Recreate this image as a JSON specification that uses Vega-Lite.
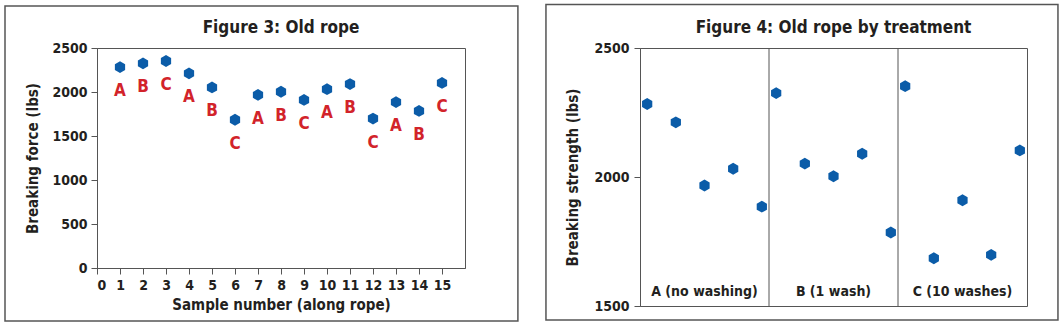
{
  "$schema": "https://vega.github.io/schema/vega-lite/v6.json",
  "padding": {"left": 3, "top": 3, "right": 0, "bottom": 0},
  "background": "white",
  "spacing": 24,
  "datasets": {
    "rope": [
      {"sample": 1, "treatment": "A", "rep": 1, "force": 2283},
      {"sample": 2, "treatment": "B", "rep": 1, "force": 2325},
      {"sample": 3, "treatment": "C", "rep": 1, "force": 2352},
      {"sample": 4, "treatment": "A", "rep": 2, "force": 2212},
      {"sample": 5, "treatment": "B", "rep": 2, "force": 2052},
      {"sample": 6, "treatment": "C", "rep": 2, "force": 1685},
      {"sample": 7, "treatment": "A", "rep": 3, "force": 1967},
      {"sample": 8, "treatment": "B", "rep": 3, "force": 2003},
      {"sample": 9, "treatment": "C", "rep": 3, "force": 1910},
      {"sample": 10, "treatment": "A", "rep": 4, "force": 2032},
      {"sample": 11, "treatment": "B", "rep": 4, "force": 2090},
      {"sample": 12, "treatment": "C", "rep": 4, "force": 1698},
      {"sample": 13, "treatment": "A", "rep": 5, "force": 1885},
      {"sample": 14, "treatment": "B", "rep": 5, "force": 1785},
      {"sample": 15, "treatment": "C", "rep": 5, "force": 2103}
    ]
  },
  "hconcat": [
    {
      "title": {"text": "Figure 3: Old rope", "frame": "group", "baseline": "alphabetic", "offset": -44.75},
      "width": 368,
      "height": 220,
      "encoding": {
        "x": {
          "type": "quantitative",
          "scale": {"domain": [0, 16], "nice": false},
          "axis": {"values": [0, 1, 2, 3, 4, 5, 6, 7, 8, 9, 10, 11, 12, 13, 14, 15], "format": "d", "labelOverlap": false, "title": "Sample number (along rope)", "labelPadding": 4, "titlePadding": 5}
        },
        "y": {
          "type": "quantitative",
          "scale": {"domain": [0, 2500], "nice": false},
          "axis": {"values": [0, 500, 1000, 1500, 2000, 2500], "format": "d", "title": "Breaking force (lbs)", "labelPadding": 4, "titlePadding": 11}
        }
      },
      "layer": [
        {
          "data": {"values": [{}]},
          "mark": {"type": "rect", "fill": "transparent", "stroke": "#555555", "strokeWidth": 1.5},
          "encoding": {
            "x": {"datum": -4.0, "type": "quantitative"},
            "x2": {"datum": 18.3},
            "y": {"datum": 2977, "type": "quantitative"},
            "y2": {"datum": -602}
          }
        },
        {
          "data": {"name": "rope"},
          "mark": {"type": "point", "shape": "M0,-1L0.866,-0.5L0.866,0.5L0,1L-0.866,0.5L-0.866,-0.5Z", "filled": true, "size": 140, "color": "#0b5ca8", "opacity": 1},
          "encoding": {
            "x": {"field": "sample", "type": "quantitative"},
            "y": {"field": "force", "type": "quantitative"}
          }
        },
        {
          "data": {"name": "rope"},
          "mark": {"type": "text", "dy": 24, "baseline": "middle", "fontSize": 17, "fontWeight": "bold", "color": "#d2232a"},
          "encoding": {
            "x": {"field": "sample", "type": "quantitative"},
            "y": {"field": "force", "type": "quantitative"},
            "text": {"field": "treatment"}
          }
        }
      ]
    },
    {
      "title": {"text": "Figure 4: Old rope by treatment", "frame": "group", "baseline": "alphabetic", "offset": -46.75},
      "width": 387,
      "height": 258,
      "resolve": {"scale": {"x": "independent"}},
      "layer": [
        {
          "data": {"values": [{}]},
          "mark": {"type": "rect", "fill": "transparent", "stroke": "#555555", "strokeWidth": 1.5},
          "encoding": {
            "x": {"datum": -0.243, "type": "quantitative", "scale": {"domain": [0, 1], "nice": false}, "axis": null},
            "x2": {"datum": 1.08},
            "y": {"datum": 2669, "type": "quantitative", "scale": {"domain": [1500, 2500], "nice": false}},
            "y2": {"datum": 1446}
          }
        },
        {
          "layer": [
            {
              "data": {"name": "rope"},
              "mark": {"type": "point", "shape": "M0,-1L0.866,-0.5L0.866,0.5L0,1L-0.866,0.5L-0.866,-0.5Z", "filled": true, "size": 140, "color": "#0b5ca8", "opacity": 1},
              "encoding": {
                "x": {"field": "treatment", "type": "nominal", "scale": {"type": "band", "paddingInner": 0, "paddingOuter": 0}, "axis": null},
                "xOffset": {"field": "rep", "type": "ordinal", "scale": {"paddingInner": 0, "paddingOuter": 0.25}},
                "y": {
                  "field": "force", "type": "quantitative",
                  "scale": {"domain": [1500, 2500], "nice": false},
                  "axis": {"values": [1500, 2000, 2500], "format": "d", "title": "Breaking strength (lbs)", "labelPadding": 5, "titlePadding": 13}
                }
              }
            },
            {
              "data": {"values": [{"treatment": "B"}, {"treatment": "C"}]},
              "mark": {"type": "rule", "color": "#555555", "strokeWidth": 1},
              "encoding": {
                "x": {"field": "treatment", "type": "nominal", "bandPosition": 0}
              }
            },
            {
              "data": {"values": [
                {"treatment": "A", "label": "A (no washing)"},
                {"treatment": "B", "label": "B (1 wash)"},
                {"treatment": "C", "label": "C (10 washes)"}
              ]},
              "mark": {"type": "text", "baseline": "alphabetic", "dy": -10, "fontSize": 14, "fontWeight": "bold", "color": "#231f20"},
              "encoding": {
                "x": {"field": "treatment", "type": "nominal", "bandPosition": 0.5},
                "y": {"datum": 1500, "type": "quantitative"},
                "text": {"field": "label"}
              }
            }
          ]
        }
      ]
    }
  ],
  "config": {
    "font": "DejaVu Sans Condensed",
    "view": {"stroke": "#555555", "strokeWidth": 1},
    "title": {"fontSize": 17, "fontWeight": "bold", "color": "#231f20", "anchor": "middle"},
    "axis": {
      "grid": false,
      "domainColor": "#555555",
      "tickColor": "#555555",
      "tickSize": 6,
      "labelFontSize": 14,
      "labelFontWeight": "bold",
      "labelColor": "#231f20",
      "titleFontSize": 15,
      "titleFontWeight": "bold",
      "titleColor": "#231f20"
    }
  }
}
